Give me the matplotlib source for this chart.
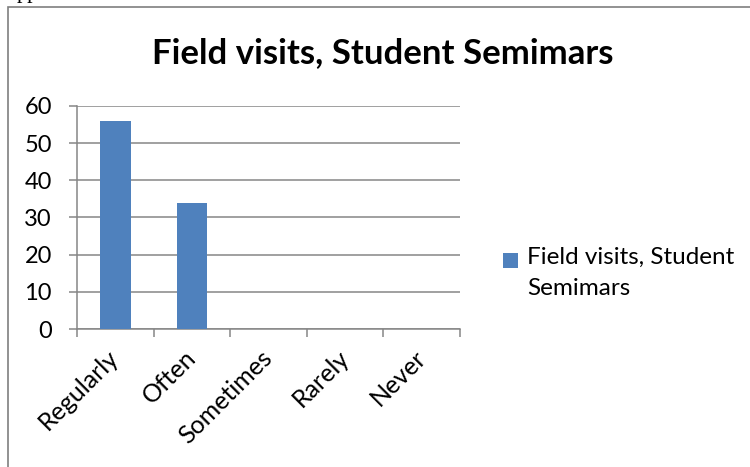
import matplotlib.pyplot as plt
from matplotlib.patches import Rectangle

categories = ["Regularly", "Often", "Sometimes", "Rarely", "Never"]
values = [56, 34, 0, 0, 0]
series_name = "Field visits, Student Semimars"
y_ticks = [0, 10, 20, 30, 40, 50, 60]

plt.rcParams["font.family"] = ["Lato", "DejaVu Sans"]

BAR_COLOR = "#4F81BD"
GRID_COLOR = "#868686"

fig = plt.figure(figsize=(7.5, 4.67), dpi=100)
ax = fig.add_axes([77 / 750, 1 - 329 / 467, (460 - 77) / 750, (329 - 106) / 467])

x = list(range(len(categories)))
ax.bar(x, values, width=0.4, color=BAR_COLOR, label="Field visits, Student\nSemimars", zorder=3)

ax.set_xlim(-0.5, len(categories) - 0.5)
ax.set_ylim(0, 60)
ax.set_yticks(y_ticks)
ax.yaxis.grid(True, color=GRID_COLOR, linewidth=1.1, zorder=0)

ax.set_xticks(x)
ax.set_xticklabels(categories, rotation=45, ha="right", va="center", rotation_mode="anchor")
ax.set_xticks([i - 0.5 for i in range(len(categories) + 1)], minor=True)
ax.tick_params(axis="x", which="major", length=0, pad=18, labelsize=18)
ax.tick_params(axis="x", which="minor", length=6, width=1.1, color=GRID_COLOR, direction="out")
ax.tick_params(axis="y", length=6, width=1.1, color=GRID_COLOR, labelsize=17, pad=12)

for side in ["top", "right"]:
    ax.spines[side].set_visible(False)
for side in ["left", "bottom"]:
    ax.spines[side].set_color(GRID_COLOR)
    ax.spines[side].set_linewidth(1.1)

fig.text(383 / 750, 1 - 63 / 467, series_name, ha="center", va="baseline",
         fontsize=25, fontweight="bold")

leg = ax.legend(loc="upper left", bbox_to_anchor=(503 / 750, 1 - 247 / 467),
                bbox_transform=fig.transFigure, frameon=False, fontsize=17.5,
                borderpad=0, borderaxespad=0, handlelength=0.6, handleheight=0.6,
                handletextpad=0.4, labelspacing=0.3)
for t in leg.get_texts():
    t.set_linespacing(1.6)
# Excel keeps the key level with the first line of a wrapped label
key = leg.legend_handles[0]
key.set_y(key.get_y() + 9)

# chart border, running off the right and bottom of the page
fig.patches.append(Rectangle((8 / 750, -0.1), 1.2, 1.1 - 7 / 467, transform=fig.transFigure,
                             fill=False, edgecolor="#7F7F7F", linewidth=1.2))
fig.text(17 / 750, 1 + 2 / 467, "pp", family="Liberation Serif", fontsize=16, va="baseline")

fig.savefig("out.png", dpi=100)
